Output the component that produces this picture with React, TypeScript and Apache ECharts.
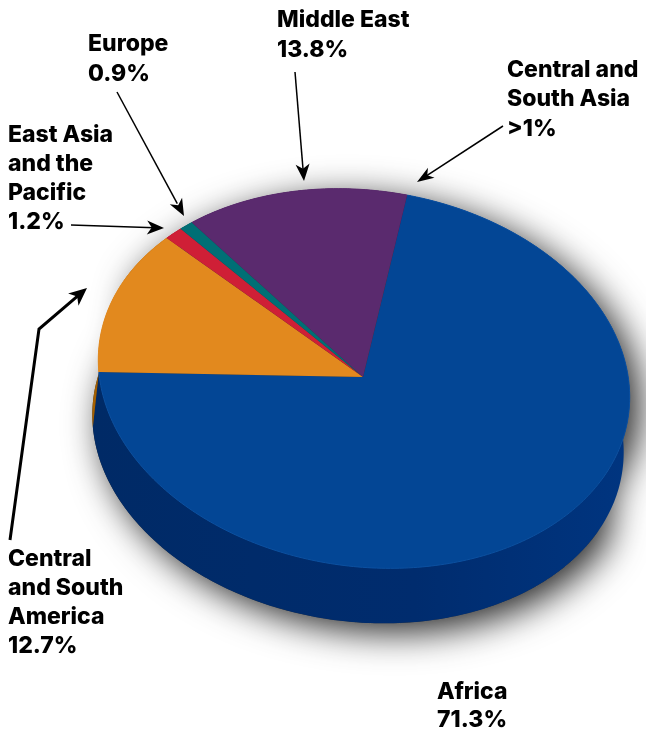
import React, { useEffect, useRef } from "react";
import * as echarts from "echarts";

const regions = ["Africa", "Central and South America", "East Asia and the Pacific", "Europe", "Middle East"];
const shares = [71.3, 12.7, 1.2, 0.9, 13.8];
const topColors = ["#034695", "#e2891e", "#cf1f36", "#006f75", "#5a2a6e"];
const sideColors = ["#002b6b", "#a56000", "#8f1526", "#004a4e", "#3c1a4c"];

const AX = 363, AY = 377;
const CX = 364, CY = 378.5, RX = 267, RY = 188, TILT = (8 * Math.PI) / 180;
const DX = -6, DY = 55, START_DEG = 3.7;

function pt(deg: number, ox = 0, oy = 0): number[] {
  const t = (deg * Math.PI) / 180;
  const x = RX * Math.sin(t), y = -RY * Math.cos(t);
  return [CX + ox + x * Math.cos(TILT) - y * Math.sin(TILT), CY + oy + x * Math.sin(TILT) + y * Math.cos(TILT)];
}
function arc(a: number, b: number, ox = 0, oy = 0): number[][] {
  const n = Math.max(2, Math.ceil(Math.abs(b - a)));
  const out: number[][] = [];
  for (let i = 0; i <= n; i++) out.push(pt(a + ((b - a) * i) / n, ox, oy));
  return out;
}
const total = shares.reduce((s, v) => s + v, 0);
function bounds(i: number): number[] {
  const before = shares.slice(0, i).reduce((s, v) => s + v, 0);
  return [START_DEG + (before / total) * 360, START_DEG + ((before + shares[i]) / total) * 360];
}
function head(fromX: number, fromY: number, tipX: number, tipY: number, len: number, wid: number): number[][] {
  const l = Math.hypot(tipX - fromX, tipY - fromY);
  const ux = (tipX - fromX) / l, uy = (tipY - fromY) / l;
  const px = -uy, py = ux;
  return [
    [tipX, tipY],
    [tipX - ux * len + px * wid, tipY - uy * len + py * wid],
    [tipX - ux * len * 0.72, tipY - uy * len * 0.72],
    [tipX - ux * len - px * wid, tipY - uy * len - py * wid],
  ];
}

const FONT = "Inter";
const labels: [string, number, number, number][] = [
  ["Middle East\n13.8%", 277, 4, 30],
  ["Europe\n0.9%", 88, 28, 30],
  ["Central and\nSouth Asia\n>1%", 507, 54, 29.5],
  ["East Asia\nand the\nPacific\n1.2%", 8, 119, 29],
  ["Central\nand South\nAmerica\n12.7%", 8, 543, 29],
  ["Africa\n71.3%", 437, 677, 28],
];
const arrows: { points: number[][]; width: number; len: number; wid: number }[] = [
  { points: [[295, 72], [304, 181]], width: 1.5, len: 17, wid: 7 },
  { points: [[117, 92], [184, 216]], width: 1.5, len: 17, wid: 7 },
  { points: [[71, 225], [164, 228]], width: 1.5, len: 17, wid: 7 },
  { points: [[503, 126], [417, 182]], width: 1.5, len: 17, wid: 6 },
  { points: [[10, 540], [39, 329], [87, 288]], width: 3, len: 18, wid: 8 },
];

export default function App() {
  const ref = useRef<HTMLDivElement>(null);
  useEffect(() => {
    document.body.style.margin = "0";
    const chart = echarts.init(ref.current!, undefined, { renderer: "svg" });
    const hull = [...arc(-70, 110), ...arc(110, 290, DX, DY)];
    const data = shares.map((v, i) => ({ name: regions[i], value: v }));
    const graphic: any[] = [
      {
        type: "polygon",
        z: -1,
        silent: true,
        shape: { points: hull },
        style: {
          fill: "#333",
          shadowBlur: 36,
          shadowColor: "rgba(0,0,0,0.85)",
          shadowOffsetX: 10,
          shadowOffsetY: 9,
        },
      },
    ];
    labels.forEach(([text, x, y, lh]) =>
      graphic.push({
        type: "text",
        z: 10,
        x,
        y,
        style: {
          text,
          fill: "#000",
          font: `800 23px ${FONT}`,
          lineHeight: lh,
          textAlign: "left",
          textVerticalAlign: "top",
        },
      })
    );
    arrows.forEach((a) => {
      const n = a.points.length;
      const from = a.points[n - 2], tip = a.points[n - 1];
      graphic.push({
        type: "polyline",
        z: 9,
        shape: { points: a.points.slice(0, n - 1).concat([[tip[0] - (tip[0] - from[0]) * 0.1, tip[1] - (tip[1] - from[1]) * 0.1]]) },
        style: { stroke: "#000", lineWidth: a.width, fill: "none", lineJoin: "miter" },
      });
      graphic.push({
        type: "polygon",
        z: 9,
        shape: { points: head(from[0], from[1], tip[0], tip[1], a.len, a.wid) },
        style: { fill: "#000" },
      });
    });

    chart.setOption({
      animation: false,
      graphic,
      series: [
        {
          type: "custom",
          coordinateSystem: "none",
          z: 2,
          silent: true,
          data,
          renderItem: (params: any) => {
            const i = params.dataIndex;
            const [a, b] = bounds(i);
            return {
              type: "polygon",
              shape: { points: [...arc(a, b), ...arc(b, a, DX, DY)] },
              style: {
                fill: i === 0
                  ? new echarts.graphic.LinearGradient(0, 0, 1, 0, [
                      { offset: 0, color: "#002a66" },
                      { offset: 0.6, color: "#002c6e" },
                      { offset: 1, color: "#003580" },
                    ])
                  : sideColors[i],
              },
            };
          },
        },
        {
          type: "custom",
          coordinateSystem: "none",
          z: 3,
          silent: true,
          data,
          renderItem: (params: any) => {
            const i = params.dataIndex;
            const [a, b] = bounds(i);
            return {
              type: "group",
              children: [
                {
                  type: "polygon",
                  shape: { points: [[AX, AY], ...arc(a, b)] },
                  style: { fill: topColors[i] },
                },
                {
                  type: "polyline",
                  shape: { points: arc(a, b) },
                  style: { stroke: i === 0 ? "#0a50a2" : topColors[i], lineWidth: 1, fill: "none" },
                },
              ],
            };
          },
        },
      ],
    });
    return () => chart.dispose();
  }, []);
  return <div ref={ref} style={{ position: "fixed", left: 0, top: 0, width: 646, height: 733 }} />;
}
